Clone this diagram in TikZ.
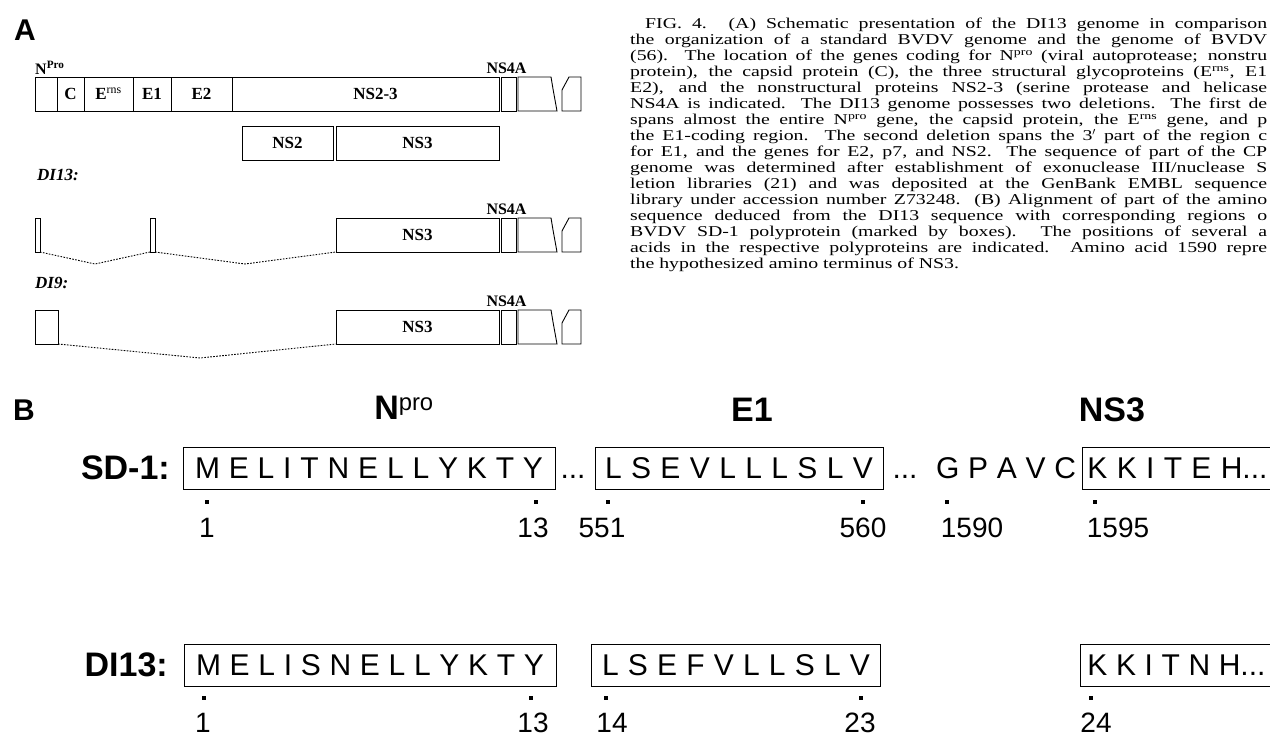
\documentclass[tikz,border=0pt]{standalone}
\usepackage{fontspec}
\setmainfont{Liberation Serif}
\newfontfamily\capfont[FakeStretch=1.32]{Liberation Serif}
\newfontfamily\seqfont{Liberation Sans}
\usetikzlibrary{positioning}

\begin{document}
\begin{tikzpicture}[x=1pt, y=-1pt,
  seg/.style={rectangle, draw, line width=0.9pt, minimum height=34pt, inner sep=0pt,
              outer sep=0pt, anchor=north west, font=\fontsize{17}{19}\selectfont\bfseries},
  lbl/.style={inner sep=0pt, font=\fontsize{16}{18}\selectfont\bfseries},
  rowlbl/.style={inner sep=0pt, anchor=west, font=\fontsize{17}{19}\selectfont\bfseries\itshape},
  gap/.style={line width=0.9pt, dash pattern=on 1.6pt off 1.4pt},
  panel/.style={inner sep=0pt, font=\seqfont\bfseries\fontsize{30}{32}\selectfont},
  capline/.style={inner sep=0pt, anchor=base west, font=\capfont\fontsize{15}{16}\selectfont},
  hd/.style={inner sep=0pt, font=\seqfont\bfseries\fontsize{34}{38}\selectfont},
  seqlbl/.style={inner sep=0pt, anchor=east, font=\seqfont\bfseries\fontsize{34}{38}\selectfont},
  seqbox/.style={rectangle, draw, line width=0.9pt, minimum height=42pt, inner sep=0pt,
                 font=\seqfont\fontsize{30}{34}\selectfont},
  seqtxt/.style={inner sep=0pt, anchor=base, font=\seqfont\fontsize{30}{34}\selectfont},
  tick/.style={rectangle, fill, inner sep=0pt, minimum width=3.5pt, minimum height=4pt},
  num/.style={inner sep=0pt, anchor=base, font=\seqfont\fontsize{28}{30}\selectfont}
]
  \path[fill=white, use as bounding box] (0,0) rectangle (1270,746);
  \clip (0,0) rectangle (1270,746);

  % ---- panel A: genome maps
  \node[panel] (lbla) at (25,30) {A};
  \node[lbl, anchor=west] (nprolbl) at (35,68) {N\textsuperscript{Pro}};

  \node[seg, minimum width=22pt] (npro) at (35,77) {};
  \node[seg, minimum width=27pt] (capsid) at (57,77) {C};
  \node[seg, minimum width=49pt] (erns) at (84,77) {E\textsuperscript{\mdseries rns}};
  \node[seg, minimum width=38pt] (eone) at (133,77) {E1};
  \node[seg, minimum width=61pt] (etwo) at (171,77) {E2};
  \node[seg, minimum width=267pt] (nstwothree) at (232,77) {\hspace{20pt}NS2-3};

  \node[seg, minimum width=91pt] (nstwo) at (242,126) {NS2};
  \node[seg, minimum width=163pt] (nsthree) at (336,126) {NS3};

  \node[rowlbl] (dithirteen) at (37,175) {DI13:};
  \node[seg, minimum width=5pt] (keepa) at (35,218) {};
  \node[seg, minimum width=5pt] (keepb) at (150,218) {};
  \node[seg, minimum width=163pt] (nsthreea) at (336,218) {NS3};
  \coordinate (dipa) at (95,264);
  \coordinate (dipb) at (245,264);
  \draw[gap] (keepa.south east) -- (dipa) -- (keepb.south west);
  \draw[gap] (keepb.south east) -- (dipb) -- (nsthreea.south west);

  \node[rowlbl] (dinine) at (35,283) {DI9:};
  \node[seg, minimum width=23pt] (keepc) at (35,310) {};
  \node[seg, minimum width=163pt] (nsthreeb) at (336,310) {NS3};
  \coordinate (dipc) at (200,358);
  \draw[gap] (keepc.south east) -- (dipc) -- (nsthreeb.south west);

  % NS4A and the 3' end, the same on every map
  \foreach \yy/\rw in {77/std,218/dia,310/dib}{
    \node[seg, minimum width=15pt] (nsfoura-\rw) at (501,\yy) {};
    \node[lbl, above=3pt of nsfoura-\rw.north, xshift=-2pt] (nsfouralbl-\rw) {NS4A};
    \draw[line width=0.9pt] (518,\yy) -- (551,\yy) -- (553,\yy+12) -- (557,\yy+34)
      -- (518,\yy+34) -- cycle;
    \draw[line width=0.9pt] (562,\yy+34) -- (562,\yy+13) -- (569,\yy) -- (581,\yy)
      -- (581,\yy+34) -- cycle;
  }

  % ---- legend
  \node[capline] (capa) at (645,29) {\makebox[622pt][s]{FIG. 4. (A) Schematic presentation of the DI13 genome in comparison}};
  \node[capline] (capb) at (630,45) {\makebox[637pt][s]{the organization of a standard BVDV genome and the genome of BVDV}};
  \node[capline] (capc) at (630,61) {\makebox[637pt][s]{(56). The location of the genes coding for N\textsuperscript{pro} (viral autoprotease; nonstru}};
  \node[capline] (capd) at (630,77) {\makebox[637pt][s]{protein), the capsid protein (C), the three structural glycoproteins (E\textsuperscript{rns}, E1}};
  \node[capline] (cape) at (630,93) {\makebox[637pt][s]{E2), and the nonstructural proteins NS2-3 (serine protease and helicase}};
  \node[capline] (capf) at (630,109) {\makebox[637pt][s]{NS4A is indicated. The DI13 genome possesses two deletions. The first de}};
  \node[capline] (capg) at (630,125) {\makebox[637pt][s]{spans almost the entire N\textsuperscript{pro} gene, the capsid protein, the E\textsuperscript{rns} gene, and p}};
  \node[capline] (caph) at (630,141) {\makebox[637pt][s]{the E1-coding region. The second deletion spans the 3$'$ part of the region c}};
  \node[capline] (capi) at (630,157) {\makebox[637pt][s]{for E1, and the genes for E2, p7, and NS2. The sequence of part of the CP}};
  \node[capline] (capj) at (630,173) {\makebox[637pt][s]{genome was determined after establishment of exonuclease III/nuclease S}};
  \node[capline] (capk) at (630,189) {\makebox[637pt][s]{letion libraries (21) and was deposited at the GenBank EMBL sequence}};
  \node[capline] (capl) at (630,205) {\makebox[637pt][s]{library under accession number Z73248. (B) Alignment of part of the amino}};
  \node[capline] (capm) at (630,221) {\makebox[637pt][s]{sequence deduced from the DI13 sequence with corresponding regions o}};
  \node[capline] (capn) at (630,237) {\makebox[637pt][s]{BVDV SD-1 polyprotein (marked by boxes). The positions of several a}};
  \node[capline] (capo) at (630,253) {\makebox[637pt][s]{acids in the respective polyproteins are indicated. Amino acid 1590 repre}};
  \node[capline] (capp) at (630,269) {the hypothesized amino terminus of NS3.};

  % ---- panel B: alignment
  \node[panel] (lblb) at (24,410) {B};
  \node[hd] (hnpro) at (404,408) {N\textsuperscript{\mdseries pro}};
  \node[hd] (heone) at (752,410) {E1};
  \node[hd] (hnsthree) at (1112,410) {NS3};

  \node[seqlbl] (sdlbl) at (170,468) {SD-1:};
  \node[seqbox, minimum width=372pt] (sdnpro) at (369,468) {\makebox[348pt][s]{M E L I T N E L L Y K T Y}};
  \node[seqtxt] (sddotsa) at (573,478.7) {...};
  \node[seqbox, minimum width=288pt] (sdeone) at (739,468) {\makebox[268pt][s]{L S E V L L L S L V}};
  \node[seqtxt] (sddotsb) at (905,478.7) {...};
  \node[seqtxt] (sdcleave) at (1006,478.7) {\makebox[140pt][s]{G P A V C}};
  \node[seqbox, minimum width=218pt, anchor=west] (sdnsthree) at (1082,468)
    {\makebox[218pt][l]{\hspace{5pt}\makebox[180pt][s]{K K I T E H...}}};

  \node[tick] (sdtka) at (207,502) {};
  \node[tick] (sdtkb) at (536,502) {};
  \node[tick] (sdtkc) at (608,502) {};
  \node[tick] (sdtkd) at (863,502) {};
  \node[tick] (sdtke) at (947,502) {};
  \node[tick] (sdtkf) at (1095,502) {};
  \node[num] (sdnuma) at (207,537) {1};
  \node[num] (sdnumb) at (533,537) {13};
  \node[num] (sdnumc) at (602,537) {551};
  \node[num] (sdnumd) at (863,537) {560};
  \node[num] (sdnume) at (972,537) {1590};
  \node[num] (sdnumf) at (1118,537) {1595};

  \node[seqlbl] (dilbl) at (168,665) {DI13:};
  \node[seqbox, minimum width=372pt] (dinpro) at (370,665) {\makebox[348pt][s]{M E L I S N E L L Y K T Y}};
  \node[seqbox, minimum width=289pt] (dieone) at (736,665) {\makebox[268pt][s]{L S E F V L L S L V}};
  \node[seqbox, minimum width=218pt, anchor=west] (dinsthree) at (1080,665)
    {\makebox[218pt][l]{\hspace{7pt}\makebox[178pt][s]{K K I T N H...}}};

  \node[tick] (ditka) at (204,698) {};
  \node[tick] (ditkb) at (531,698) {};
  \node[tick] (ditkc) at (606,698) {};
  \node[tick] (ditkd) at (861,698) {};
  \node[tick] (ditke) at (1091,698) {};
  \node[num] (dinuma) at (203,732) {1};
  \node[num] (dinumb) at (533,732) {13};
  \node[num] (dinumc) at (612,732) {14};
  \node[num] (dinumd) at (860,732) {23};
  \node[num] (dinume) at (1096,732) {24};
\end{tikzpicture}
\end{document}
